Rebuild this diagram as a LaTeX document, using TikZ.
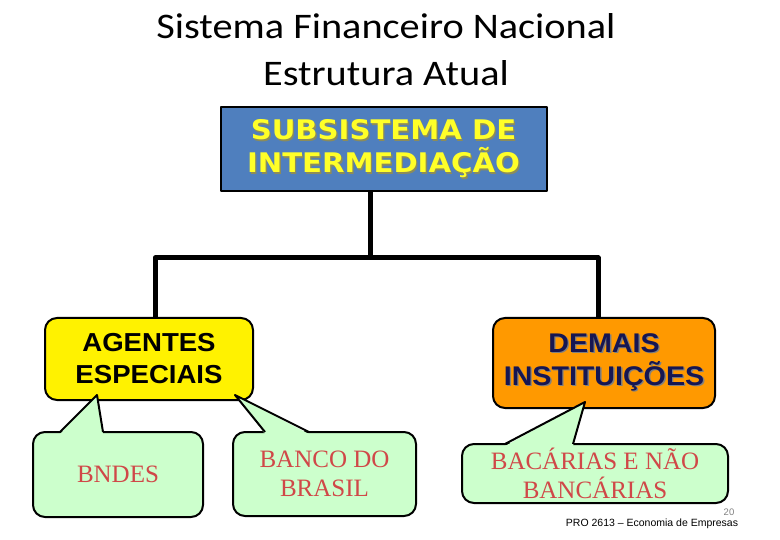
\documentclass[tikz,border=0pt]{standalone}
\usepackage{fontspec}
\usepackage{tikz}
\usetikzlibrary{shapes, calc, positioning}
\setmainfont{Carlito}[FakeStretch=1.12]
\newfontfamily\verdanaf{DejaVu Sans}[FakeStretch=1.08]
\newfontfamily\arialf{Liberation Sans}[FakeStretch=1.06]
\newfontfamily\footf{Liberation Sans}
\newfontfamily\timesf{Liberation Serif}
\definecolor{boxblue}{RGB}{79,127,190}
\definecolor{txtyellow}{RGB}{255,255,40}
\definecolor{shyellow}{RGB}{140,140,90}
\definecolor{boxorange}{RGB}{255,153,0}
\definecolor{txtnavy}{RGB}{22,22,82}
\definecolor{callgreen}{RGB}{204,255,204}
\definecolor{txtred}{RGB}{208,72,72}
\newcommand\shadowed[2]{\leavevmode\rlap{\hspace{1.4pt}\raisebox{-1.4pt}{\textcolor{#1}{#2}}}#2}

\begin{document}
\begin{tikzpicture}[x=1pt,y=-1pt,line join=round,
	tree/.style={line width=5pt},
	callout/.style={draw=black,line width=2pt,fill=callgreen,rounded corners=12pt,inner sep=0pt,align=center,text=txtred,font=\timesf\fontsize{25}{29}\selectfont}]
	\tikzset{topbox/.style={draw=black,line width=2pt,inner sep=0pt,align=center}}
	\useasboundingbox (0,0) rectangle (780,540);
	% title
	\node[align=center,font=\fontsize{36}{47}\selectfont] (title) at (386,50) {Sistema Financeiro Nacional\\Estrutura Atual};
	% boxes
	\node[topbox,fill=boxblue,minimum width=326pt,minimum height=84pt,text=txtyellow,font=\verdanaf\bfseries\fontsize{27}{33}\selectfont] (sub) at (383.5,149.5) {\shadowed{shyellow}{SUBSISTEMA DE}\\\shadowed{shyellow}{INTERMEDIAÇÃO}};
	\node[topbox,fill=yellow,rounded corners=12pt,minimum width=208pt,minimum height=82pt,font=\arialf\bfseries\fontsize{26}{32}\selectfont] (agentes) at (149,359) {AGENTES\\ESPECIAIS};
	\node[topbox,fill=boxorange,rounded corners=12pt,minimum width=222pt,minimum height=90pt,text=txtnavy,font=\arialf\bfseries\fontsize{27}{33}\selectfont] (demais) at (604,363) {\shadowed{gray}{DEMAIS}\\\shadowed{gray}{INSTITUIÇÕES}};
	\coordinate (mid) at (370,258);
	\draw[tree] (sub.south -| mid) -- (mid);
	\draw[tree] ([xshift=6pt]agentes.north) |- (mid) -| ([xshift=-6pt]demais.north);
	% callouts
	\node[callout,minimum width=170pt,minimum height=85pt] (bndes) at (118,474.5) {BNDES};
	\node[callout,minimum width=183pt,minimum height=84pt] (bb) at (324.5,474) {BANCO DO\\BRASIL};
	\node[callout,minimum width=266pt,minimum height=59pt] (outras) at (595,473.5) {BACÁRIAS E NÃO\\BANCÁRIAS};
	\coordinate (tipA) at (97,395);
	\coordinate (tipB) at (235,395);
	\coordinate (tipC) at (585,402);
	\foreach \t/\a/\b in {tipA/60/103,tipB/265/309,tipC/505/573}{
		\fill[callgreen] (\a,{\a==505 ? 446 : 434}) -- (\t) -- (\b,{\a==505 ? 446 : 434}) -- cycle;
		\draw[line width=2pt] (\a,{\a==505 ? 444 : 432}) -- (\t) -- (\b,{\a==505 ? 444 : 432});
	}
	% footer
	\node[inner sep=0pt,font=\footf\fontsize{9.5}{11}\selectfont,text=gray] (page) at (729,512) {20};
	\node[inner sep=0pt,font=\footf\fontsize{10.5}{12}\selectfont] (course) at (652,523.5) {PRO 2613 – Economia de Empresas};
\end{tikzpicture}
\end{document}
